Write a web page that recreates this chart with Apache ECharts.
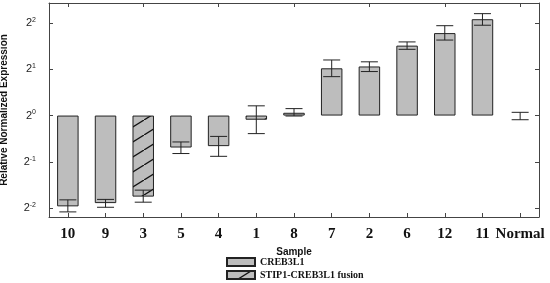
<!DOCTYPE html>
<html>
<head>
<meta charset="utf-8">
<script src="https://cdn.jsdelivr.net/npm/echarts@6/dist/echarts.min.js"></script>
<style>
  html, body { margin: 0; padding: 0; background: #fff; }
  #chart { width: 550px; height: 283px; }
</style>
</head>
<body>
<div id="chart"></div>
<script>
// values are log2 of relative normalized expression
const samples = ['10', '9', '3', '5', '4', '1', '8', '7', '2', '6', '12', '11', 'Normal'];
const creb3l1 = [-1.96, -1.89, '-', -0.69, -0.66, '-', 0.06, 1.02, 1.06, 1.51, 1.78, 2.08, '-'];
const fusion = ['-', '-', -1.75, '-', '-', -0.09, '-', '-', '-', '-', '-', '-', '-'];
const errLow = [-2.08, -1.98, -1.87, -0.82, -0.88, -0.39, -0.01, 0.84, 0.95, 1.43, 1.63, 1.95, -0.09];
const errHigh = [-1.82, -1.81, -1.61, -0.57, -0.45, 0.21, 0.15, 1.2, 1.16, 1.59, 1.94, 2.2, 0.07];
const yTicks = [-2, -1, 0, 1, 2];

function hatch() {
  const c = document.createElement('canvas');
  c.width = 24; c.height = 15;
  const g = c.getContext('2d');
  g.fillStyle = '#bdbdbd';
  g.fillRect(0, 0, 24, 15);
  g.strokeStyle = '#111';
  g.lineWidth = 1.3;
  g.beginPath();
  g.moveTo(-2, 16.25); g.lineTo(26, -1.25);
  g.stroke();
  return c;
}

const chart = echarts.init(document.getElementById('chart'), null, { renderer: 'canvas' });
const frame = { show: true, onZero: false, lineStyle: { color: '#444', width: 1 } };
const serif = "'Liberation Serif', 'DejaVu Serif', serif";
const sans = "'Liberation Sans', Arial, sans-serif";

chart.setOption({
  animation: false,
  grid: { left: 49, right: 11, top: 3, bottom: 66, outerBoundsMode: 'none' },
  legend: {
    orient: 'vertical',
    left: 221,
    top: 252,
    height: 40,
    itemWidth: 28,
    itemHeight: 8,
    itemGap: 3,
    icon: 'rect',
    data: ['CREB3L1', 'STIP1-CREB3L1 fusion'],
    textStyle: { fontFamily: serif, fontWeight: 'bold', fontSize: 10, color: '#111' }
  },
  xAxis: [{
    type: 'category',
    data: samples,
    name: 'Sample',
    nameLocation: 'middle',
    nameGap: 24,
    nameTextStyle: { fontFamily: sans, fontWeight: 'bold', fontSize: 10, color: '#111' },
    axisLine: frame,
    axisTick: { show: true, inside: true, length: 4, alignWithLabel: true, lineStyle: { color: '#444' } },
    axisLabel: { fontFamily: serif, fontWeight: 'bold', fontSize: 15, color: '#111', margin: 10, interval: 0 }
  }, {
    type: 'category',
    data: samples,
    position: 'top',
    axisLine: frame,
    axisTick: { show: true, inside: true, length: 4, alignWithLabel: true, lineStyle: { color: '#444' } },
    axisLabel: { show: false }
  }],
  yAxis: [{
    type: 'value',
    min: -2.19,
    max: 2.43,
    name: 'Relative Normalized Expression',
    nameLocation: 'middle',
    nameGap: 40,
    nameTextStyle: { fontFamily: sans, fontWeight: 'bold', fontSize: 10, color: '#111' },
    axisLine: frame,
    splitLine: { show: false },
    axisTick: { show: true, inside: true, length: 4, customValues: yTicks, lineStyle: { color: '#444' } },
    axisLabel: {
      customValues: yTicks,
      margin: 13,
      formatter: v => '{b|2}{s|' + v + '}',
      rich: {
        b: { fontFamily: sans, fontSize: 11, color: '#222' },
        s: { fontFamily: sans, fontSize: 7, color: '#222', verticalAlign: 'top', padding: [0, 0, 6, 0] }
      }
    }
  }, {
    type: 'value',
    min: -2.19,
    max: 2.43,
    position: 'right',
    axisLine: frame,
    splitLine: { show: false },
    axisTick: { show: true, inside: true, length: 4, customValues: yTicks, lineStyle: { color: '#444' } },
    axisLabel: { show: false }
  }],
  series: [{
    name: 'CREB3L1',
    type: 'bar',
    data: creb3l1,
    barWidth: '57%',
    barGap: '-100%',
    itemStyle: { color: '#bdbdbd', borderColor: '#222', borderWidth: 1 }
  }, {
    name: 'STIP1-CREB3L1 fusion',
    type: 'bar',
    data: fusion,
    barWidth: '57%',
    itemStyle: { color: { image: hatch(), repeat: 'repeat' }, borderColor: '#222', borderWidth: 1 }
  }, {
    name: 'err',
    type: 'custom',
    data: samples.map((s, i) => [i, errLow[i], errHigh[i]]),
    encode: { x: 0, y: [1, 2] },
    z: 5,
    renderItem: (params, api) => {
      const lo = api.coord([api.value(0), api.value(1)]);
      const hi = api.coord([api.value(0), api.value(2)]);
      const half = 8.5;
      const st = { stroke: '#222', lineWidth: 1 };
      return {
        type: 'group',
        children: [
          { type: 'line', shape: { x1: lo[0], y1: lo[1], x2: hi[0], y2: hi[1] }, style: st },
          { type: 'line', shape: { x1: lo[0] - half, y1: lo[1], x2: lo[0] + half, y2: lo[1] }, style: st },
          { type: 'line', shape: { x1: hi[0] - half, y1: hi[1], x2: hi[0] + half, y2: hi[1] }, style: st }
        ]
      };
    }
  }]
});
</script>
</body>
</html>
